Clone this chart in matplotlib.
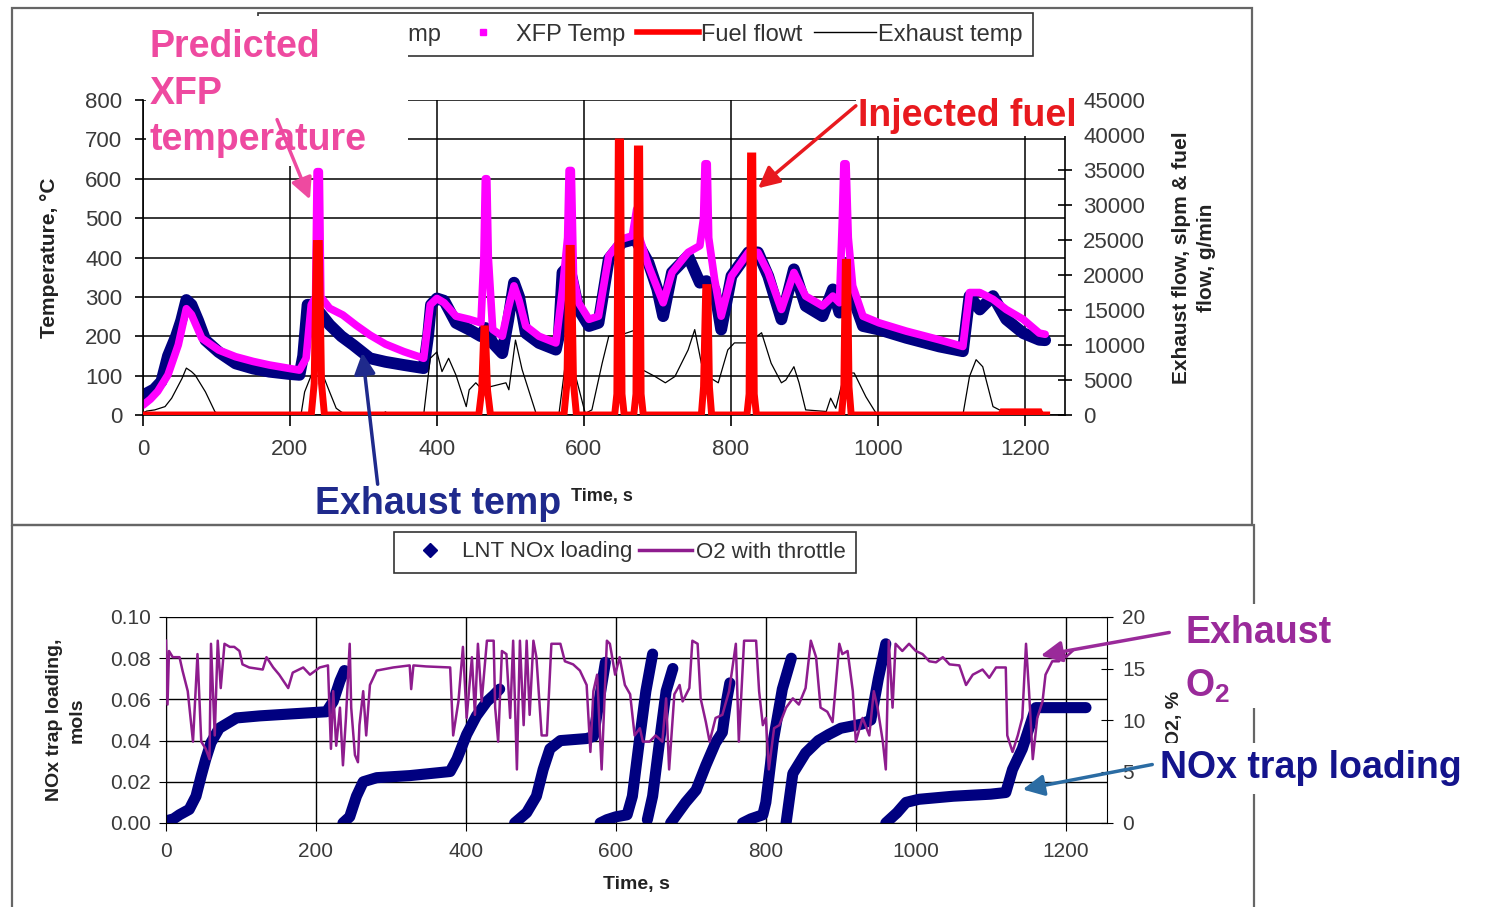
import numpy as np
import matplotlib
matplotlib.use("Agg")
import matplotlib.pyplot as plt
from matplotlib.lines import Line2D
from matplotlib.patches import Rectangle

plt.rcParams['font.family'] = ['Liberation Sans', 'DejaVu Sans']
plt.rcParams['mathtext.fontset'] = 'custom'
plt.rcParams['mathtext.rm'] = 'Liberation Sans'
plt.rcParams['mathtext.bf'] = 'Liberation Sans:bold'

# ---- top chart data ----
navy_t = [0, 5, 15, 25, 34, 45, 52, 59, 66, 75, 85, 103, 126, 150, 172, 200, 213, 218, 224, 232,
          245, 254, 270, 286, 309, 330, 355, 382, 388, 392, 400, 410, 426, 444, 460, 466, 476, 489,
          497, 505, 512, 521, 539, 562, 566, 571, 580, 593, 607, 620, 634, 652, 670, 688, 700, 708,
          720, 742, 758, 767, 778, 787, 801, 824, 837, 851, 869, 886, 902, 925, 939, 948, 955, 966,
          980, 1002, 1039, 1084, 1116, 1125, 1139, 1157, 1175, 1198, 1220, 1228]
navy_temp = [40, 55, 65, 85, 150, 200, 240, 292, 280, 240, 190, 160, 131, 118, 110, 104, 102, 150,
             280, 280, 250, 229, 200, 178, 144, 135, 127, 119, 200, 280, 296, 290, 234, 217, 200, 221,
             183, 157, 240, 336, 300, 208, 183, 166, 200, 362, 380, 268, 226, 234, 396, 438, 447, 387,
             320, 251, 362, 404, 336, 340, 319, 217, 353, 413, 413, 353, 243, 370, 277, 251, 319, 260,
             300, 300, 226, 217, 196, 174, 162, 302, 268, 302, 243, 208, 191, 190]

xfp_t = [0, 10, 20, 34, 48, 59, 66, 80, 103, 126, 150, 172, 200, 213, 222, 229, 235, 237, 240, 242,
         254, 272, 290, 309, 330, 355, 382, 391, 400, 410, 426, 444, 460, 464, 466, 468, 470, 476,
         489, 497, 505, 512, 521, 539, 562, 571, 578, 580, 583, 586, 593, 607, 620, 634, 652, 666,
         670, 672, 675, 688, 708, 720, 742, 758, 763, 765, 768, 770, 778, 787, 801, 824, 837, 851,
         869, 886, 902, 925, 939, 948, 952, 954, 957, 960, 966, 980, 1002, 1039, 1084, 1116, 1125,
         1139, 1157, 1175, 1198, 1220, 1228]
xfp_temp = [25, 40, 60, 102, 178, 270, 255, 195, 165, 148, 136, 127, 118, 114, 144, 280, 300, 618,
            618, 300, 271, 254, 228, 203, 180, 161, 144, 280, 296, 285, 251, 243, 234, 400, 600, 600,
            400, 217, 200, 270, 328, 290, 226, 200, 183, 319, 450, 621, 621, 350, 285, 243, 251, 404,
            447, 455, 500, 523, 455, 379, 285, 362, 413, 430, 500, 638, 638, 450, 345, 251, 353, 413,
            413, 362, 268, 362, 302, 277, 302, 285, 500, 638, 638, 450, 328, 251, 234, 213, 191, 174,
            311, 311, 294, 268, 243, 208, 205]

fuel_t = [0, 229, 233, 236, 240, 243, 247,
          457, 461, 464, 466, 469, 473,
          573, 577, 580, 583, 586, 590,
          642, 645, 647, 650, 652, 655,
          668, 671, 673, 676, 678, 681,
          760, 763, 766, 769, 771, 774,
          822, 825, 827, 830, 832, 835,
          951, 954, 956, 959, 961, 964,
          1168, 1170, 1220, 1222, 1230]
fuel_flow = [0, 0, 4500, 24500, 24500, 4500, 0,
             0, 3500, 12300, 12300, 3500, 0,
             0, 4500, 23800, 23800, 4500, 0,
             0, 3000, 39000, 39000, 3000, 0,
             0, 3000, 38000, 38000, 3000, 0,
             0, 4000, 18200, 18200, 4000, 0,
             0, 3000, 37000, 37000, 3000, 0,
             0, 4000, 21800, 21800, 4000, 0,
             0, 450, 450, 0, 0]

flow_t = [0, 5, 16, 30, 39, 53, 59, 66, 71, 85, 98, 105, 215, 220, 231, 238, 245, 254, 263, 272,
          280, 325, 330, 335, 382, 391, 400, 407, 416, 426, 440, 444, 453, 462, 471, 494, 498, 507,
          516, 535, 566, 575, 582, 589, 602, 611, 625, 634, 652, 672, 679, 697, 711, 724, 742, 751,
          760, 769, 783, 796, 805, 824, 842, 855, 869, 875, 886, 893, 902, 930, 936, 943, 955, 968,
          984, 998, 1005, 1116, 1125, 1134, 1143, 1157, 1175, 1180, 1222]
exh_flow = [300, 560, 730, 1200, 2400, 5200, 6700, 6200, 5700, 3300, 450, 0, 0, 3300, 6200, 8100,
            5700, 3300, 960, 280, 0, 0, 450, 0, 0, 8100, 9000, 6200, 8100, 5700, 1200, 3600, 4600,
            3600, 4000, 4600, 3600, 10700, 6500, 230, 0, 7400, 10700, 5500, 230, 730, 7400, 11250,
            11500, 12200, 6500, 5500, 4600, 5500, 9300, 12200, 7400, 5500, 4600, 9300, 10300, 10300,
            11750, 7400, 4600, 5000, 6900, 4600, 730, 500, 2400, 960, 6000, 6000, 2600, 230, 0, 0,
            5500, 7900, 6900, 1200, 230, 0, 0]

# ---- bottom chart data ----
nox_t = [0, 10, 18, 31, 40, 47, 53, 60, 71, 94, 125, 169, 214, 223, 232, 238, None,
         236, 245, 254, 263, 281, 325, 379, 388, 401, 414, 428, 437, 445, None,
         465, 481, 494, 503, 512, 526, 561, 570, 578, 586, None,
         579, 588, 600, 615, 622, 631, 640, 649, None,
         642, 649, 658, 667, 676, None,
         673, 693, 707, 720, 733, 742, 748, 752, None,
         769, 780, 796, 800, 810, 822, 834, None,
         827, 836, 853, 870, 884, 900, 928, 940, 950, 960, None,
         960, 975, 987, 1004, 1050, 1100, 1120, 1129, 1142, 1151, 1160, 1178, 1200, 1227]
nox_load = [0.001, 0.002, 0.004, 0.0066, 0.013, 0.023, 0.031, 0.039, 0.046, 0.051, 0.052, 0.053,
            0.054, 0.059, 0.069, 0.074, None,
            0.0, 0.003, 0.013, 0.020, 0.022, 0.023, 0.025, 0.031, 0.043, 0.052, 0.059, 0.062, 0.065, None,
            0.0, 0.005, 0.013, 0.026, 0.036, 0.040, 0.041, 0.042, 0.060, 0.078, None,
            0.0, 0.0016, 0.003, 0.004, 0.013, 0.039, 0.064, 0.082, None,
            0.0016, 0.013, 0.039, 0.064, 0.075, None,
            0.0, 0.010, 0.016, 0.028, 0.039, 0.044, 0.060, 0.068, None,
            0.0, 0.002, 0.004, 0.010, 0.040, 0.065, 0.080, None,
            0.0, 0.024, 0.034, 0.040, 0.043, 0.046, 0.048, 0.050, 0.070, 0.087, None,
            0.0, 0.005, 0.010, 0.0115, 0.013, 0.014, 0.0148, 0.026, 0.036, 0.046, 0.056, 0.056,
            0.056, 0.056]

o2_t = [0, 2, 4, 9, 18, 22, 29, 36, 42, 47, 53, 58, 60, 65, 69, 73, 78, 85, 91, 98, 102, 111, 129,
        134, 143, 151, 163, 169, 183, 192, 205, 216, 218, 220, 223, 227, 232, 236, 240, 245, 247,
        252, 256, 258, 263, 267, 272, 281, 303, 325, 327, 330, 347, 379, 383, 390, 396, 401, 408,
        412, 416, 421, 428, 437, 439, 443, 448, 454, 459, 463, 468, 472, 477, 481, 485, 490, 494,
        501, 508, 514, 526, 532, 543, 552, 561, 566, 570, 575, 581, 588, 592, 599, 605, 612, 619,
        625, 632, 636, 645, 653, 662, 667, 671, 678, 685, 689, 698, 702, 709, 713, 720, 725, 733,
        742, 751, 760, 764, 771, 787, 791, 796, 800, 804, 811, 818, 827, 836, 844, 853, 860, 867,
        873, 882, 889, 898, 902, 909, 916, 920, 929, 938, 944, 949, 956, 960, 964, 969, 973, 982,
        991, 1000, 1009, 1018, 1027, 1036, 1045, 1058, 1067, 1076, 1089, 1098, 1107, 1120, 1122,
        1129, 1136, 1142, 1147, 1151, 1156, 1162, 1169, 1173, 1182, 1191, 1196, 1200, 1209]
o2_pct = [17.7, 11.5, 16.7, 16.1, 16.1, 14.8, 12.8, 7.9, 16.4, 7.9, 7.2, 6.2, 17.4, 8.5, 17.7,
          13.1, 17.4, 17.1, 17.1, 16.7, 15.4, 15.1, 14.9, 16.1, 15.1, 14.4, 13.1, 14.6, 15.1, 14.4,
          15.1, 15.3, 11.2, 7.2, 12.8, 7.5, 11.2, 5.6, 10.2, 17.4, 11.2, 6.6, 5.9, 9.5, 12.8, 8.5,
          13.4, 14.8, 15.1, 15.3, 13.0, 15.3, 15.2, 15.1, 8.5, 11.8, 17.1, 10.2, 16.1, 10.5, 17.4,
          11.8, 17.7, 17.7, 11.2, 7.9, 16.7, 16.4, 10.2, 17.7, 5.2, 17.7, 9.5, 17.7, 10.5, 17.7,
          16.1, 8.5, 8.5, 17.4, 17.4, 15.7, 15.4, 14.8, 13.4, 6.9, 12.8, 14.4, 5.2, 17.7, 17.4,
          14.4, 16.1, 13.4, 12.5, 8.5, 9.2, 7.9, 7.9, 8.5, 7.9, 12.1, 5.2, 12.5, 13.4, 11.8, 13.1,
          17.7, 17.4, 12.1, 9.8, 7.9, 10.2, 10.5, 12.8, 17.4, 7.9, 17.7, 17.7, 12.8, 9.5, 10.2, 5.2,
          9.2, 9.5, 11.2, 12.1, 11.5, 13.1, 17.7, 16.1, 11.2, 10.8, 9.8, 17.4, 16.4, 16.7, 12.8,
          7.9, 10.2, 8.5, 12.8, 11.2, 7.9, 5.2, 17.7, 11.2, 17.4, 16.7, 17.4, 16.7, 16.4, 15.7,
          15.6, 16.1, 15.4, 15.3, 13.4, 14.4, 14.9, 14.1, 15.1, 15.1, 8.5, 6.9, 8.5, 10.2, 17.4,
          12.8, 6.2, 10.2, 11.8, 14.4, 15.7, 15.7, 16.7, 16.1, 16.7]

top_legend = ["LNT Temp", "XFP Temp", "Fuel flowt", "Exhaust temp"]
bottom_legend = ["LNT NOx loading", "O2 with throttle"]

NAVY = '#000080'
MAGENTA = '#FF00FF'
RED = '#FF0000'
PURPLE = '#8E1C8E'
PINK = '#EE4AA0'
TICKC = '#3a3a3a'

fig = plt.figure(figsize=(14.88, 9.07), dpi=100)
W, H = 1488, 907


def frac(x0, y0, x1, y1):
    return [x0 / W, 1 - y1 / H, (x1 - x0) / W, (y1 - y0) / H]


# ---------------- top chart ----------------
ax = fig.add_axes(frac(143, 100, 1065, 415))
ax.plot(navy_t, navy_temp, color=NAVY, lw=8.5, solid_joinstyle='round', solid_capstyle='round')
ax.plot(xfp_t, xfp_temp, color=MAGENTA, lw=5.5, solid_joinstyle='round', solid_capstyle='round')
ax.set_xlim(0, 1255)
ax.set_ylim(0, 800)
ax.set_xticks(range(0, 1201, 200))
ax.set_yticks(range(0, 801, 100))
ax.grid(True, color='black', lw=1.1)
ax.set_axisbelow(True)
ax.spines['top'].set_visible(False)
ax.spines['right'].set_visible(False)
for s in ('left', 'bottom'):
    ax.spines[s].set_linewidth(1.2)
ax.tick_params(axis='x', direction='out', length=8, width=1.2, pad=9, labelsize=16, labelcolor=TICKC)
ax.tick_params(axis='y', direction='out', length=6, width=1.2, pad=9, labelsize=16, labelcolor=TICKC)

ax2 = ax.twinx()
ax2.plot(flow_t, exh_flow, color='black', lw=0.9)
ax2.plot(fuel_t, fuel_flow, color=RED, lw=5, solid_joinstyle='miter')
ax2.set_ylim(0, 45000)
ax2.set_yticks(range(0, 45001, 5000))
for s in ('top', 'left', 'bottom'):
    ax2.spines[s].set_visible(False)
ax2.spines['right'].set_linewidth(1.2)
ax2.tick_params(axis='y', direction='inout', length=10, width=1.2, pad=8, labelsize=16, labelcolor=TICKC)

handles = [Line2D([], [], color=NAVY, marker='s', ls='none', ms=5),
           Line2D([], [], color=MAGENTA, marker='s', ls='none', ms=5),
           Line2D([], [], color=RED, lw=4),
           Line2D([], [], color='black', lw=1)]
leg = fig.legend(handles, top_legend, loc='upper right', bbox_to_anchor=(1033 / W, 1 - 13 / H),
                 borderaxespad=0, ncol=4, fontsize=17, frameon=True, fancybox=False,
                 edgecolor='black', handlelength=2.6, handletextpad=0.1, columnspacing=0.5,
                 borderpad=0.45)
leg.get_frame().set_linewidth(1.2)
for t in leg.get_texts():
    t.set_color('#333333')

# ---------------- bottom chart ----------------
bx = fig.add_axes(frac(166, 617, 1107, 823))
bx.plot(np.array(nox_t, dtype=float), np.array(nox_load, dtype=float), color=NAVY, lw=8,
        solid_joinstyle='round', solid_capstyle='round')
bx.set_xlim(0, 1255)
bx.set_ylim(0, 0.10)
bx.set_xticks(range(0, 1201, 200))
bx.set_yticks(np.arange(0, 0.101, 0.02))
bx.yaxis.set_major_formatter(matplotlib.ticker.FormatStrFormatter('%.2f'))
bx.grid(True, color='black', lw=1.0)
bx.set_axisbelow(True)
bx.spines['top'].set_visible(False)
bx.spines['right'].set_visible(False)
bx.tick_params(axis='x', direction='out', length=6, pad=8, labelsize=15, labelcolor=TICKC)
bx.tick_params(axis='y', direction='out', length=5, pad=6, labelsize=15, labelcolor=TICKC)

bx2 = bx.twinx()
bx2.plot(o2_t, o2_pct, color=PURPLE, lw=1.8)
bx2.set_ylim(0, 20)
bx2.set_yticks(range(0, 21, 5))
for s in ('top', 'left', 'bottom'):
    bx2.spines[s].set_visible(False)
bx2.tick_params(axis='y', direction='inout', length=8, pad=7, labelsize=15, labelcolor=TICKC)

bhandles = [Line2D([], [], color=NAVY, marker='D', ls='none', ms=7),
            Line2D([], [], color=PURPLE, lw=2.5)]
bleg = fig.legend(bhandles, bottom_legend, loc='center', bbox_to_anchor=(625 / W, 1 - 552 / H),
                  ncol=2, fontsize=16, frameon=True, fancybox=False, edgecolor='black',
                  handlelength=2.4, handletextpad=0.2, columnspacing=0.3, borderpad=0.45)
bleg.get_frame().set_linewidth(1.2)
for t in bleg.get_texts():
    t.set_color('#333333')

# ---------------- overlay: frames, labels, callouts ----------------
ov = fig.add_axes([0, 0, 1, 1], zorder=10)
ov.set_xlim(0, W)
ov.set_ylim(H, 0)
ov.axis('off')
ov.patch.set_alpha(0)

ov.add_patch(Rectangle((12, 8), 1240, 517, fill=False, ec='#666666', lw=1.6, zorder=1))
ov.add_patch(Rectangle((12, 525), 1242, 400, fill=False, ec='#666666', lw=1.6, zorder=1))

# axis titles
ov.text(50, 258, 'Temperature, °C', rotation=90, ha='center', va='center', fontsize=15,
        fontweight='bold', color='#222222')
ov.text(1194, 258, 'Exhaust flow, slpm & fuel\nflow, g/min', rotation=90, ha='center',
        va='center', fontsize=15, fontweight='bold', color='#222222', linespacing=1.45)
ov.text(602, 497, 'Time, s', ha='center', va='center', fontsize=13, fontweight='bold',
        color='#222222')
ov.text(66, 720, 'NOx trap loading,\nmols', rotation=90, ha='center', va='center', fontsize=14,
        fontweight='bold', color='#222222', linespacing=1.4)
ov.text(636, 885, 'Time, s', ha='center', va='center', fontsize=14, fontweight='bold',
        color='#222222')
ov.text(1175, 718, 'O2, %', rotation=90, ha='center', va='center', fontsize=14,
        fontweight='bold', color='#222222')

# predicted XFP callout (white box hides part of the legend, as in the slide)
ov.add_patch(Rectangle((146, 16), 262, 150, fc='white', ec='none', zorder=2))
for line, base in (('Predicted', 57), ('XFP', 104), ('temperature', 150)):
    ov.text(150, base, line, ha='left', va='baseline', fontsize=27, fontweight='bold',
            color=PINK, zorder=3)
ov.annotate('', xy=(311, 202), xytext=(276, 117),
            arrowprops=dict(arrowstyle='-|>', color=PINK, lw=2.5, mutation_scale=32), zorder=4)

# injected fuel callout
ov.text(858, 116, 'Injected fuel', ha='left', va='center', fontsize=27, fontweight='bold',
        color='#E8191E', zorder=3,
        bbox=dict(boxstyle='square,pad=0.05', fc='white', ec='none'))
ov.annotate('', xy=(756, 190), xytext=(858, 104),
            arrowprops=dict(arrowstyle='-|>', color='#E8191E', lw=2.5, mutation_scale=32), zorder=4)

# exhaust temp callout
ov.text(315, 504, 'Exhaust temp', ha='left', va='center', fontsize=27, fontweight='bold',
        color='#1F2A8C', zorder=3)
ov.annotate('', xy=(362, 350), xytext=(378, 487),
            arrowprops=dict(arrowstyle='-|>', color='#1F2A8C', lw=2.5, mutation_scale=32), zorder=4)

# exhaust O2 callout
ov.add_patch(Rectangle((1181, 604), 160, 104, fc='white', ec='none', zorder=2))
ov.text(1185, 633, 'Exhaust', ha='left', va='center', fontsize=27, fontweight='bold',
        color='#9A2A9A', zorder=3)
ov.text(1185, 686, r'$\mathbf{O_2}$', ha='left', va='center', fontsize=27, color='#9A2A9A',
        zorder=3)
ov.annotate('', xy=(1038, 656), xytext=(1172, 632),
            arrowprops=dict(arrowstyle='-|>', color='#9A2A9A', lw=2.5, mutation_scale=32), zorder=4)

# NOx trap loading callout
ov.text(1160, 768, 'NOx trap loading', ha='left', va='center', fontsize=27, fontweight='bold',
        color='#14148C', zorder=3,
        bbox=dict(boxstyle='square,pad=0.2', fc='white', ec='none'))
ov.annotate('', xy=(1020, 790), xytext=(1155, 764),
            arrowprops=dict(arrowstyle='-|>', color='#2B6CA3', lw=2.5, mutation_scale=32), zorder=4)

fig.savefig('out.png', dpi=100)
